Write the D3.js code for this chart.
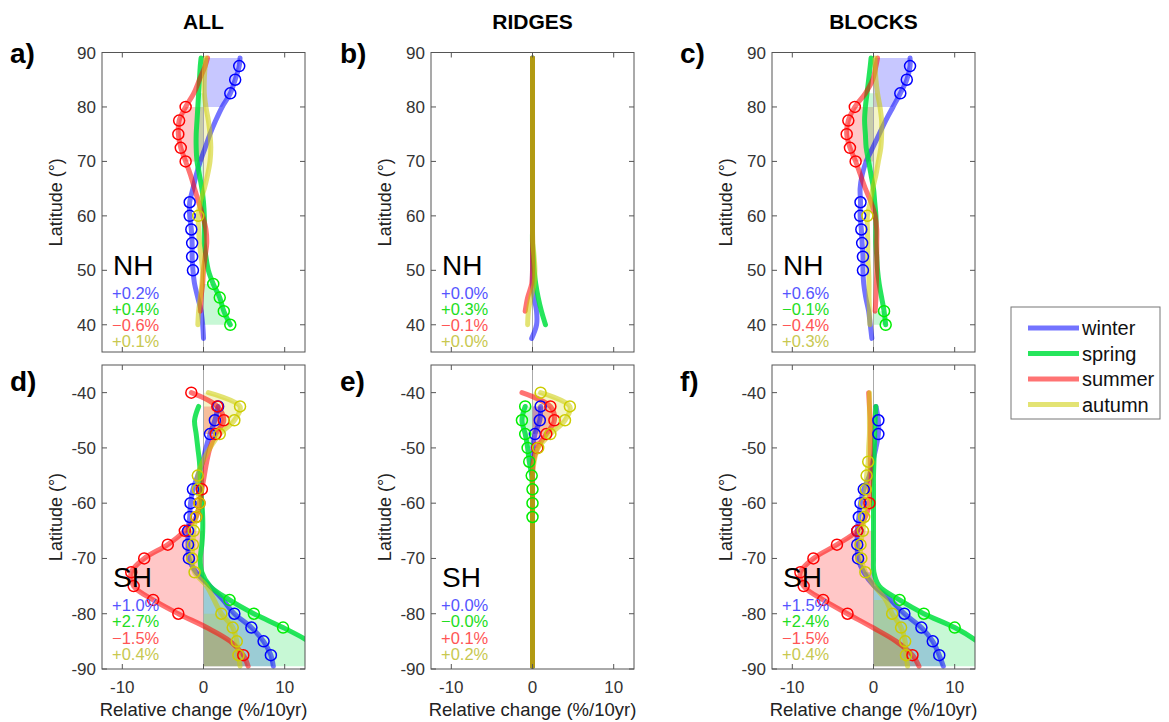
<!DOCTYPE html>
<html>
<head>
<meta charset="utf-8">
<script src="https://cdn.jsdelivr.net/npm/d3@7"></script>
<style>
  body { margin: 0; background: #fff; }
  svg { display: block; font-family: Arial, "Liberation Sans", Helvetica, sans-serif; }
</style>
</head>
<body>
<svg id="chart" width="1169" height="722"></svg>
<script>
// Seasons and colours
const SEASONS = ['winter', 'spring', 'summer', 'autumn'];
const LINE_COLOR = { winter: '#0000ff', spring: '#00e040', summer: '#ff0000', autumn: '#cccc00' };
const LINE_OPACITY = { winter: 0.55, spring: 0.85, summer: 0.55, autumn: 0.55 };
const MARK_COLOR = { winter: '#0000ff', spring: '#00ee00', summer: '#ff0000', autumn: '#cccc00' };
const TEXT_COLOR = { winter: '#5555ff', spring: '#22dd22', summer: '#ff5555', autumn: '#c8c850' };

// Latitude grids
const NH_LAT = [37.5, 40, 42.5, 45, 47.5, 50, 52.5, 55, 57.5, 60, 62.5, 65, 67.5, 70, 72.5, 75, 77.5, 80, 82.5, 85, 87.5, 89];
const SH_LAT = [-40, -42.5, -45, -47.5, -50, -52.5, -55, -57.5, -60, -62.5, -65, -67.5, -70, -72.5, -75, -77.5, -80, -82.5, -85, -87.5, -89.5];

// a) ALL, NH
const a_winter = [0.0, -0.1, -0.3, -0.7, -1.1, -1.3, -1.4, -1.4, -1.5, -1.7, -1.7, -1.3, -0.9, -0.4, 0.2, 0.8, 1.5, 2.3, 3.3, 3.9, 4.4, 4.5];
const a_spring = [null, 3.3, 2.5, 2.0, 1.2, 0.6, 0.3, 0.1, 0.1, 0.1, 0.0, -0.2, -0.5, -0.8, -0.9, -0.9, -0.8, -0.7, -0.6, -0.5, -0.4, -0.3];
const a_summer = [null, null, -0.4, -0.3, -0.1, 0.0, 0.2, 0.4, 0.3, -0.1, -0.6, -1.1, -1.6, -2.2, -2.8, -3.1, -3.0, -2.2, -1.2, -0.5, 0.2, 0.5];
const a_autumn = [null, -0.7, -0.6, -0.4, -0.2, -0.1, -0.3, -0.5, -0.6, -0.65, -0.4, 0.1, 0.5, 0.8, 0.9, 0.8, 0.6, 0.3, 0.1, 0.1, 0.2, 0.3];

// b) RIDGES, NH
const b_winter = [-0.1, 0.5, 0.5, 0.2, 0.0, 0, 0, 0, 0, 0, 0, 0, 0, 0, 0, 0, 0, 0, 0, 0, 0, 0];
const b_spring = [null, 1.6, 1.1, 0.7, 0.4, 0.2, 0.1, 0, 0, 0, 0, 0, 0, 0, 0, 0, 0, 0, 0, 0, 0, 0];
const b_summer = [null, null, -0.9, -0.6, -0.1, 0, 0, 0, 0, 0, 0, 0, 0, 0, 0, 0, 0, 0, 0, 0, 0, 0];
const b_autumn = [null, -0.6, -0.5, -0.2, 0.2, 0.3, 0.2, 0.05, 0, 0, 0, 0, 0, 0, 0, 0, 0, 0, 0, 0, 0, 0];

// c) BLOCKS, NH
const c_winter = [-0.2, -0.4, -0.6, -0.95, -1.2, -1.3, -1.3, -1.4, -1.5, -1.65, -1.6, -1.65, -1.4, -0.9, -0.1, 0.7, 1.5, 2.4, 3.3, 4.1, 4.5, 4.5];
const c_spring = [null, 1.5, 1.3, 1.0, 0.7, 0.5, 0.4, 0.3, 0.3, 0.3, 0.15, 0.0, -0.3, -0.6, -0.9, -1.0, -1.1, -1.0, -0.8, -0.6, -0.4, -0.3];
const c_summer = [null, null, 0.2, 0.3, 0.35, 0.4, 0.4, 0.4, 0.4, 0.2, -0.3, -1.0, -1.6, -2.2, -2.9, -3.3, -3.1, -2.3, -1.0, -0.1, 0.3, 0.5];
const c_autumn = [null, -0.45, -0.5, -0.55, -0.55, -0.6, -0.7, -0.7, -0.75, -0.75, -0.4, -0.1, 0.3, 0.6, 0.9, 1.0, 1.0, 0.8, 0.5, 0.3, 0.2, 0.2];

// d) ALL, SH
const d_winter = [null, 1.8, 1.4, 0.8, 0.3, -0.1, -0.7, -1.3, -1.6, -1.7, -1.9, -1.9, -1.8, -0.9, 0.8, 2.4, 3.8, 5.9, 7.4, 8.3, 8.6];
const d_spring = [null, -0.6, -1.1, -0.9, -0.7, -0.5, -0.4, -0.4, -0.2, -0.1, -0.1, -0.2, -0.4, -0.2, 0.8, 3.2, 6.2, 9.8, 13.0, 15.5, 17.0];
const d_summer = [-1.5, 1.7, 2.5, 1.5, 0.8, 0.4, 0.1, -0.2, -0.5, -0.9, -2.3, -4.4, -7.3, -8.9, -8.6, -6.2, -3.1, 0.4, 3.3, 4.9, 5.5];
const d_autumn = [0.6, 4.5, 3.8, 2.0, 0.8, -0.1, -0.7, -0.7, -0.5, -0.9, -1.2, -1.3, -1.4, -1.1, 0.4, 1.3, 2.2, 3.6, 4.1, 4.3, 4.5];

// e) RIDGES, SH
const e_winter = [null, 1.0, 0.9, 0.3, 0.05, 0, 0, 0, 0, 0, 0, 0, 0, 0, 0, 0, 0, 0, 0, 0, 0];
const e_spring = [null, -0.9, -1.3, -0.9, -0.6, -0.4, -0.1, 0, 0, 0, 0, 0, 0, 0, 0, 0, 0, 0, 0, 0, 0];
const e_summer = [-1.3, 2.2, 2.7, 1.7, 0.6, 0.1, 0, 0, 0, 0, 0, 0, 0, 0, 0, 0, 0, 0, 0, 0, 0];
const e_autumn = [1.0, 4.6, 4.0, 2.2, 0.7, 0.2, 0, 0, 0, 0, 0, 0, 0, 0, 0, 0, 0, 0, 0, 0, 0];

// f) BLOCKS, SH
const f_winter = [null, 0.3, 0.6, 0.6, 0.3, -0.1, -0.5, -1.2, -1.6, -1.8, -2.0, -2.0, -1.9, -1.2, 0.1, 2.1, 3.8, 5.9, 7.3, 8.1, 8.6];
const f_spring = [null, 0.3, 0.2, 0.15, 0.1, 0.05, 0.0, 0.0, 0.0, 0.0, 0.0, 0.0, 0.0, 0.05, 0.7, 3.2, 6.2, 10.0, 12.8, 15.0, 16.5];
const f_summer = [-0.6, -0.5, -0.4, -0.4, -0.4, -0.4, -0.4, -0.5, -0.5, -1.0, -2.0, -4.5, -7.4, -9.0, -8.6, -6.2, -3.2, -0.1, 2.8, 4.8, 5.6];
const f_autumn = [-0.5, -0.5, -0.5, -0.5, -0.6, -0.65, -0.85, -0.95, -1.05, -1.15, -1.3, -1.6, -1.5, -1.0, 0.1, 1.5, 2.3, 3.4, 3.9, 4.0, 4.2];

// Significant latitudes (circles)
const a_sig = {
  winter: [50, 52.5, 55, 57.5, 60, 62.5, 82.5, 85, 87.5],
  spring: [40, 42.5, 45, 47.5],
  summer: [70, 72.5, 75, 77.5, 80],
  autumn: [60]
};
const b_sig = { winter: [], spring: [], summer: [], autumn: [] };
const c_sig = {
  winter: [50, 52.5, 55, 57.5, 60, 62.5, 82.5, 85, 87.5],
  spring: [40, 42.5],
  summer: [70, 72.5, 75, 77.5, 80],
  autumn: [60]
};
const d_sig = {
  winter: [-42.5, -45, -47.5, -57.5, -60, -62.5, -65, -67.5, -70, -80, -82.5, -85, -87.5],
  spring: [-77.5, -80, -82.5],
  summer: [-40, -42.5, -45, -47.5, -57.5, -60, -62.5, -65, -67.5, -70, -72.5, -75, -77.5, -80, -87.5],
  autumn: [-42.5, -45, -47.5, -55, -57.5, -60, -62.5, -65, -67.5, -70, -72.5, -80, -82.5, -85, -87.5]
};
const e_sig = {
  winter: [-42.5, -45, -47.5],
  spring: [-42.5, -45, -47.5, -50, -52.5, -55, -57.5, -60, -62.5],
  summer: [-42.5, -45, -47.5, -50],
  autumn: [-40, -42.5, -45, -47.5, -50]
};
const f_sig = {
  winter: [-45, -47.5, -57.5, -60, -62.5, -65, -67.5, -70, -80, -82.5, -85, -87.5],
  spring: [-77.5, -80, -82.5],
  summer: [-60, -65, -67.5, -70, -72.5, -75, -77.5, -80, -87.5],
  autumn: [-52.5, -55, -57.5, -60, -62.5, -65, -67.5, -70, -72.5, -80, -82.5, -85, -87.5]
};

// Shaded latitude ranges [season, lat1, lat2]
const a_fill = [['winter', 80, 89], ['summer', 70, 80], ['spring', 40, 47.5], ['spring', 65, 82.5], ['autumn', 65, 82.5]];
const b_fill = [];
const c_fill = [['winter', 80, 89], ['summer', 70, 80], ['spring', 40, 42.5], ['spring', 65, 82.5], ['autumn', 65, 82.5]];
const d_fill = [['summer', -65, -89.5], ['winter', -72.5, -89.5], ['spring', -75, -89.5], ['autumn', -80, -89.5],
                ['autumn', -40, -47.5], ['summer', -42.5, -47.5]];
const e_fill = [['autumn', -40, -47.5], ['summer', -42.5, -50], ['spring', -42.5, -50], ['winter', -42.5, -47.5]];
const f_fill = [['summer', -65, -89.5], ['winter', -72.5, -89.5], ['spring', -75, -89.5], ['autumn', -77.5, -89.5]];

// Hemispheric mean change labels
const a_pct = ['+0.2%', '+0.4%', '\u22120.6%', '+0.1%'];
const b_pct = ['+0.0%', '+0.3%', '\u22120.1%', '+0.0%'];
const c_pct = ['+0.6%', '\u22120.1%', '\u22120.4%', '+0.3%'];
const d_pct = ['+1.0%', '+2.7%', '\u22121.5%', '+0.4%'];
const e_pct = ['+0.0%', '\u22120.0%', '+0.1%', '+0.2%'];
const f_pct = ['+1.5%', '+2.4%', '\u22121.5%', '+0.4%'];

const COL_TITLES = ['ALL', 'RIDGES', 'BLOCKS'];
const X_TICKS = [-10, 0, 10];
const NH_TICKS = [40, 50, 60, 70, 80, 90];
const SH_TICKS = [-90, -80, -70, -60, -50, -40];

// Layout
const COL_LEFT = [102, 431, 772];
const COL_LETTER_X = [10, 340, 680];
const PW = 203;
const ROWS = [
  { top: 52.5, h: 299.5, dom: [35, 90], lat: NH_LAT, ticks: NH_TICKS, hemi: 'NH', letterY: 63 },
  { top: 365, h: 304, dom: [-90, -35], lat: SH_LAT, ticks: SH_TICKS, hemi: 'SH', letterY: 391 }
];

const panels = [
  { row: 0, col: 0, letter: 'a)', s: [a_winter, a_spring, a_summer, a_autumn], sig: a_sig, fill: a_fill, pct: a_pct },
  { row: 0, col: 1, letter: 'b)', s: [b_winter, b_spring, b_summer, b_autumn], sig: b_sig, fill: b_fill, pct: b_pct },
  { row: 0, col: 2, letter: 'c)', s: [c_winter, c_spring, c_summer, c_autumn], sig: c_sig, fill: c_fill, pct: c_pct },
  { row: 1, col: 0, letter: 'd)', s: [d_winter, d_spring, d_summer, d_autumn], sig: d_sig, fill: d_fill, pct: d_pct },
  { row: 1, col: 1, letter: 'e)', s: [e_winter, e_spring, e_summer, e_autumn], sig: e_sig, fill: e_fill, pct: e_pct },
  { row: 1, col: 2, letter: 'f)', s: [f_winter, f_spring, f_summer, f_autumn], sig: f_sig, fill: f_fill, pct: f_pct }
];

const svg = d3.select('#chart');
const AXIS = '#555';

// Column titles
COL_TITLES.forEach((t, i) => {
  svg.append('text')
    .attr('x', COL_LEFT[i] + PW / 2).attr('y', 29)
    .attr('text-anchor', 'middle')
    .attr('font-size', 21).attr('font-weight', 'bold')
    .text(t);
});

panels.forEach((p, pi) => {
  const R = ROWS[p.row];
  const left = COL_LEFT[p.col];
  const x = d3.scaleLinear().domain([-12.5, 12.5]).range([left, left + PW]);
  const y = d3.scaleLinear().domain(R.dom).range([R.top + R.h, R.top]);

  const g = svg.append('g');
  const clipId = 'clip' + pi;
  svg.append('defs').append('clipPath').attr('id', clipId)
    .append('rect').attr('x', left).attr('y', R.top).attr('width', PW).attr('height', R.h);

  const plot = g.append('g').attr('clip-path', `url(#${clipId})`);

  const seriesPts = p.s.map(vals => R.lat.map((lat, i) => ({ lat, v: vals[i] })));

  // fills
  const area = d3.area()
    .y(d => y(d.lat)).x0(x(0)).x1(d => x(d.v))
    .curve(d3.curveCatmullRom.alpha(0.5));
  p.fill.forEach(([season, l1, l2]) => {
    const k = SEASONS.indexOf(season);
    const lo = Math.min(l1, l2), hi = Math.max(l1, l2);
    const pts = seriesPts[k].filter(d => d.v != null && d.lat >= lo && d.lat <= hi);
    plot.append('path').datum(pts)
      .attr('d', area)
      .attr('fill', LINE_COLOR[season])
      .attr('fill-opacity', 0.22);
  });

  // zero line
  plot.append('line')
    .attr('x1', x(0)).attr('x2', x(0))
    .attr('y1', R.top).attr('y2', R.top + R.h)
    .attr('stroke', '#aaa').attr('stroke-width', 1);

  // lines
  const line = d3.line()
    .defined(d => d.v != null)
    .x(d => x(d.v)).y(d => y(d.lat))
    .curve(d3.curveCatmullRom.alpha(0.5));
  SEASONS.forEach((season, k) => {
    plot.append('path').datum(seriesPts[k])
      .attr('d', line)
      .attr('fill', 'none')
      .attr('stroke', LINE_COLOR[season])
      .attr('stroke-opacity', LINE_OPACITY[season])
      .attr('stroke-width', 5)
      .attr('stroke-linecap', 'round')
      .attr('stroke-linejoin', 'round');
  });

  // significance circles
  SEASONS.forEach((season, k) => {
    const pts = seriesPts[k].filter(d => d.v != null && p.sig[season].includes(d.lat));
    plot.selectAll(null).data(pts).join('circle')
      .attr('cx', d => x(d.v)).attr('cy', d => y(d.lat))
      .attr('r', 5.5)
      .attr('fill', 'none')
      .attr('stroke', MARK_COLOR[season])
      .attr('stroke-width', 1.5);
  });

  // box
  g.append('rect')
    .attr('x', left).attr('y', R.top).attr('width', PW).attr('height', R.h)
    .attr('fill', 'none').attr('stroke', AXIS).attr('stroke-width', 1);

  // ticks (inward, all four sides)
  X_TICKS.forEach(t => {
    g.append('line').attr('x1', x(t)).attr('x2', x(t))
      .attr('y1', R.top + R.h).attr('y2', R.top + R.h - 5).attr('stroke', AXIS);
    g.append('line').attr('x1', x(t)).attr('x2', x(t))
      .attr('y1', R.top).attr('y2', R.top + 5).attr('stroke', AXIS);
  });
  R.ticks.forEach(t => {
    g.append('line').attr('x1', left).attr('x2', left + 5)
      .attr('y1', y(t)).attr('y2', y(t)).attr('stroke', AXIS);
    g.append('line').attr('x1', left + PW).attr('x2', left + PW - 5)
      .attr('y1', y(t)).attr('y2', y(t)).attr('stroke', AXIS);
    g.append('text')
      .attr('x', left - 6).attr('y', y(t) + 6)
      .attr('text-anchor', 'end').attr('font-size', 17).attr('fill', '#333')
      .text(t);
  });

  if (p.row === 1) {
    X_TICKS.forEach(t => {
      g.append('text')
        .attr('x', x(t)).attr('y', R.top + R.h + 24)
        .attr('text-anchor', 'middle').attr('font-size', 17).attr('fill', '#333')
        .text(t);
    });
    g.append('text')
      .attr('x', left + PW / 2).attr('y', R.top + R.h + 47)
      .attr('text-anchor', 'middle').attr('font-size', 18.5).attr('fill', '#222')
      .text('Relative change (%/10yr)');
  }

  // y label
  g.append('text')
    .attr('transform', `translate(${left - 40},${R.top + R.h / 2}) rotate(-90)`)
    .attr('text-anchor', 'middle').attr('font-size', 18).attr('fill', '#222')
    .text('Latitude (°)');

  // panel letter
  g.append('text')
    .attr('x', COL_LETTER_X[p.col]).attr('y', R.letterY)
    .attr('font-size', 28).attr('font-weight', 'bold')
    .text(p.letter);

  // hemisphere tag and mean changes
  g.append('text')
    .attr('x', left + 11).attr('y', R.top + 222)
    .attr('font-size', 28).attr('fill', '#000')
    .text(R.hemi);
  p.pct.forEach((s, k) => {
    g.append('text')
      .attr('x', left + 10).attr('y', R.top + 246 + k * 16.3)
      .attr('font-size', 16.5).attr('fill', TEXT_COLOR[SEASONS[k]])
      .text(s);
  });
});

// Legend
const leg = svg.append('g');
leg.append('rect')
  .attr('x', 1011).attr('y', 307).attr('width', 149).attr('height', 112)
  .attr('fill', '#fff').attr('stroke', '#777').attr('stroke-width', 1);
SEASONS.forEach((season, k) => {
  const yy = 328 + k * 25.5;
  leg.append('line')
    .attr('x1', 1028).attr('x2', 1079).attr('y1', yy).attr('y2', yy)
    .attr('stroke', LINE_COLOR[season]).attr('stroke-opacity', LINE_OPACITY[season])
    .attr('stroke-width', 5);
  leg.append('text')
    .attr('x', 1082).attr('y', yy + 7)
    .attr('font-size', 20).attr('fill', '#111')
    .text(season);
});
</script>
</body>
</html>
